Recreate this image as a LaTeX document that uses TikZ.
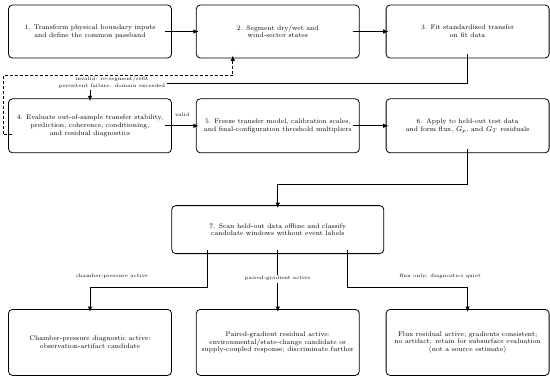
\documentclass[tikz,border=0pt]{standalone}
\usepackage{amsmath,amssymb}
\usetikzlibrary{arrows.meta,positioning,calc}

\begin{document}
\begin{tikzpicture}[
  font=\fontsize{6.7}{7.8}\selectfont,
  box/.style={draw, line width=0.8pt, rounded corners=4pt, align=center, minimum width=163pt, minimum height=53pt, inner sep=2pt},
  stage/.style={box},
  scan/.style={box, minimum width=212pt, minimum height=48pt},
  verdict/.style={box, minimum height=66pt},
  cond/.style={align=center, font=\fontsize{5}{7.2}\selectfont, inner sep=1.5pt},
  arrow/.style={-{Latex[length=5.5pt,width=4.5pt]}, line width=1pt, shorten <=-4pt, shorten >=-3pt}
]
\useasboundingbox (0,0) rectangle (550pt,-380pt);

% top row
\node[stage] (fwd) at (90pt,-31.5pt) {1. Transform physical boundary inputs\\and define the common passband};
\node[stage, right=24pt of fwd] (seg) {2. Segment dry/wet and\\wind-sector states};
\node[stage, right=26pt of seg] (fit) {3. Fit standardized transfer\\on fit data};

% second row
\node[stage, minimum height=54pt, below=40pt of fwd] (eval) {4. Evaluate out-of-sample transfer stability,\\prediction, coherence, conditioning,\\and residual diagnostics};
\node[stage, minimum height=54pt, below=40pt of seg] (freeze) {5. Freeze transfer model, calibration scales,\\and final-configuration threshold multipliers};
\node[stage, minimum height=54pt, below=40pt of fit] (apply) {6. Apply to held-out test data\\and form flux, $G_p$, and $G_T$ residuals};

\node[scan, below=52pt of freeze] (scan) {7. Scan held-out data offline and classify\\candidate windows without event labels};

% outcomes
\node[verdict, below=55pt of scan] (grad) {Paired-gradient residual active:\\environmental/state-change candidate or\\supply-coupled response; discriminate further};
\node[verdict, left=24pt of grad] (press) {Chamber-pressure diagnostic active:\\observation-artifact candidate};
\node[verdict, right=26pt of grad] (flux) {Flux residual active; gradients consistent;\\no artifact: retain for subsurface evaluation\\(not a source estimate)};

\draw[arrow] ([xshift=-3pt]fwd.east) -- (seg.west);
\draw[arrow] ([xshift=-3pt]seg.east) -- (fit.west);
\draw[arrow] (fit.south) -- ++(0,-25pt) -| (eval.north);
\node[cond, fill=white] (retry) at (112pt,-83pt) {invalid: re-segment/refit\\persistent failure: domain exceeded};
\draw[arrow, dash pattern=on 3pt off 2pt] ([yshift=-9pt]eval.west) -- ++(-5pt,0) |- ($(seg.south)+(-45pt,-17pt)$) -- ([xshift=-45pt]seg.south);
\draw[arrow] ([xshift=-3pt]eval.east) -- (freeze.west) node[cond, midway, above=7pt] (ok) {valid};
\draw[arrow] ([xshift=-3pt]freeze.east) -- (apply.west);
\draw[arrow] (apply.south) -- ++(0,-31pt) -| (scan.north);

\draw[arrow] ([xshift=-70pt]scan.south) -- ++(0,-33pt) -| (press.north);
\draw[arrow] (scan.south) -- (grad.north) node[cond, fill=white, pos=.45] (pg) {paired-gradient active};
\draw[arrow] ([xshift=70pt]scan.south) -- ++(0,-33pt) -| (flux.north);
\node[cond] (cp) at (112pt,-276pt) {chamber-pressure active};
\node[cond] (fq) at (440pt,-276pt) {flux only; diagnostics quiet};

\end{tikzpicture}
\end{document}
